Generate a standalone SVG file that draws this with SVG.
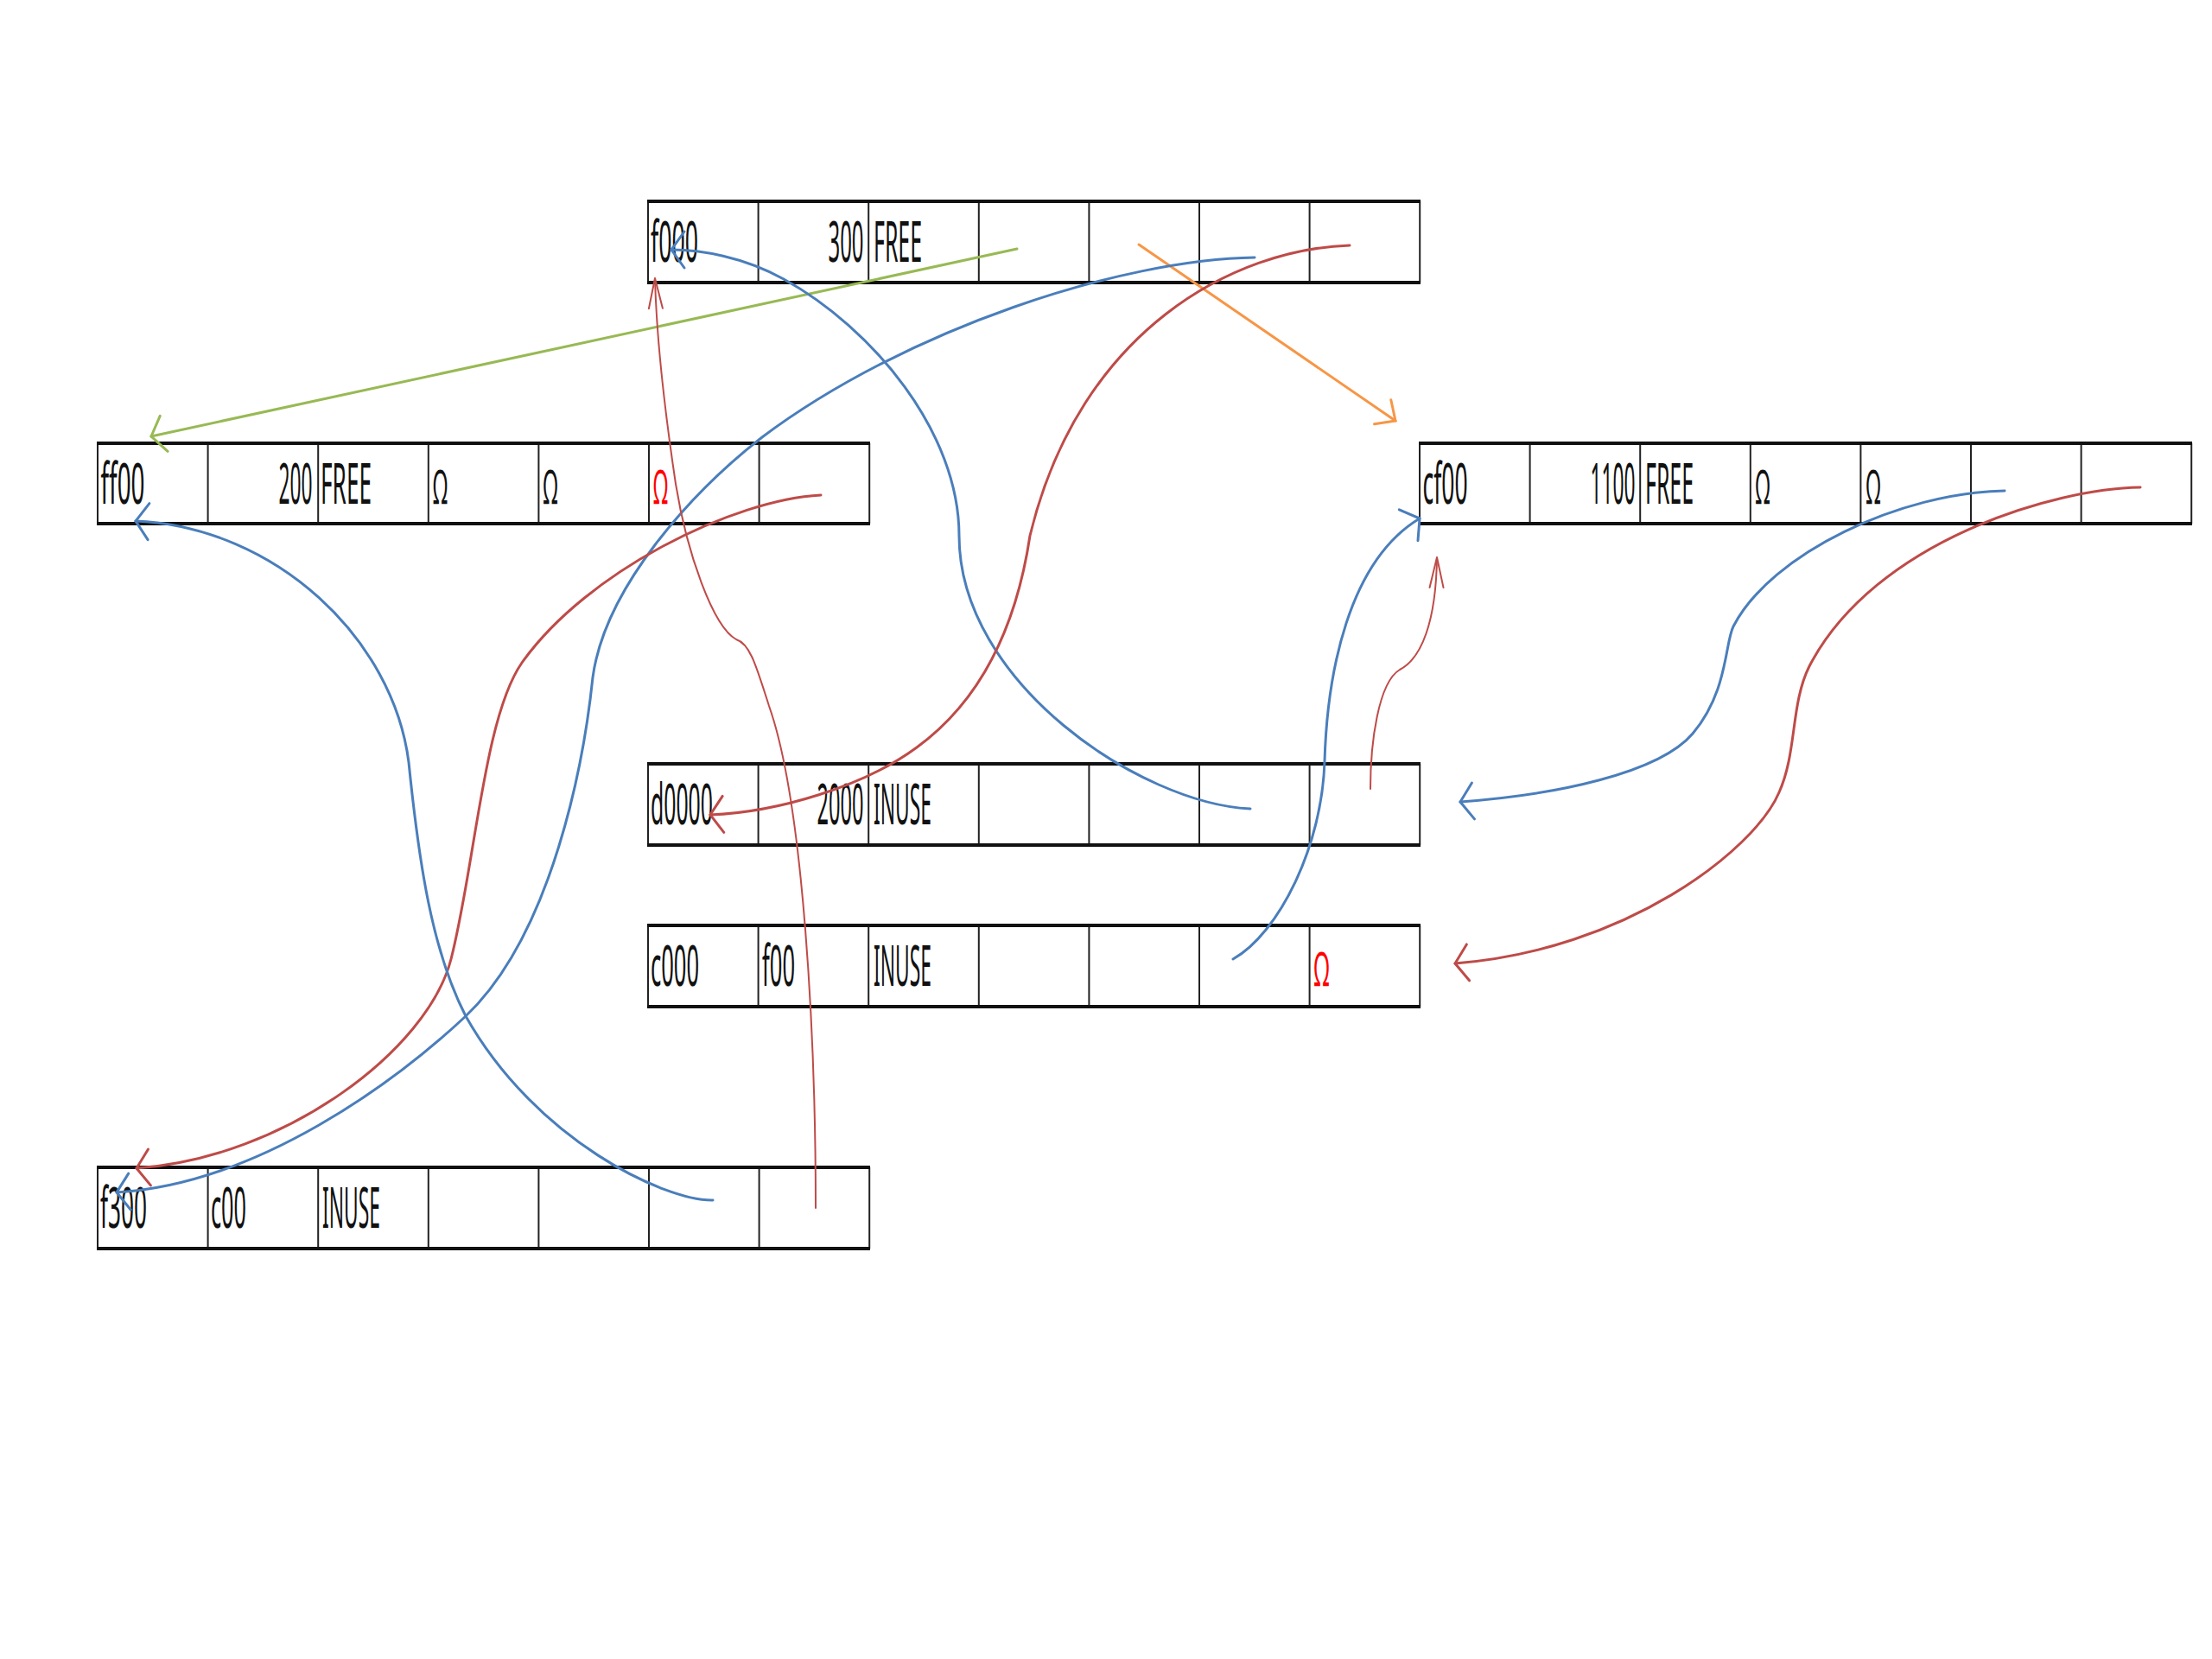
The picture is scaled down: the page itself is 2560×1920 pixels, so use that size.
<svg xmlns="http://www.w3.org/2000/svg" width="2560" height="1920" viewBox="0 0 2560 1920">
<style>
.grid{fill:none;stroke:#222;stroke-width:2}
.edge{fill:none;stroke:#111;stroke-width:4}
.t{font-family:"Noto Sans","Liberation Sans",sans-serif;font-size:66px;fill:#111}
.om{font-family:"Noto Sans","Liberation Sans",sans-serif;font-size:54px;fill:#111}
.omr{fill:#ff0000}
.c{fill:none;stroke-width:3;stroke-linecap:round}
.blue{stroke:#4a7ebb}
.red{stroke:#be4b48}
.thin{stroke-width:2}
.green{stroke:#98b954}
.orange{stroke:#f79646}
</style>
<defs>
<marker id="ah-blue" markerUnits="userSpaceOnUse" markerWidth="40" markerHeight="50" refX="0" refY="0" orient="auto" overflow="visible"><path d="M-15,-21 L0,0 L-15,21" fill="none" stroke="#4a7ebb" stroke-width="3" stroke-linecap="round"/></marker>
<marker id="ah-red" markerUnits="userSpaceOnUse" markerWidth="40" markerHeight="50" refX="0" refY="0" orient="auto" overflow="visible"><path d="M-15,-21 L0,0 L-15,21" fill="none" stroke="#be4b48" stroke-width="3" stroke-linecap="round"/></marker>
<marker id="ah-red-thin" markerUnits="userSpaceOnUse" markerWidth="40" markerHeight="20" refX="0" refY="0" orient="auto" overflow="visible"><path d="M-35,-8 L0,0 L-35,8" fill="none" stroke="#be4b48" stroke-width="2" stroke-linecap="round"/></marker>
<marker id="ah-green" markerUnits="userSpaceOnUse" markerWidth="40" markerHeight="50" refX="0" refY="0" orient="auto" overflow="visible"><path d="M-15,-21 L0,0 L-15,21" fill="none" stroke="#98b954" stroke-width="3" stroke-linecap="round"/></marker>
<marker id="ah-orange" markerUnits="userSpaceOnUse" markerWidth="40" markerHeight="50" refX="0" refY="0" orient="auto" overflow="visible"><path d="M-18,-17 L0,0 L-18,17" fill="none" stroke="#f79646" stroke-width="3" stroke-linecap="round"/></marker>
</defs>
<rect width="2560" height="1920" fill="#fff"/>

<g id="row-f000" transform="translate(750,233)">
<path class="grid" d="M0,0V94M127.6,0V94M255.2,0V94M382.8,0V94M510.4,0V94M638,0V94M765.6,0V94M893.2,0V94"/>
<path class="edge" d="M-1,0H894M-1,94H894"/>
<text class="t" x="3" y="70" textLength="55" lengthAdjust="spacingAndGlyphs">f000</text>
<text class="t" x="208.5" y="70" textLength="41" lengthAdjust="spacingAndGlyphs">300</text>
<text class="t" x="261" y="70" textLength="56" lengthAdjust="spacingAndGlyphs">FREE</text>
</g>

<g id="row-ff00" transform="translate(113,513)">
<path class="grid" d="M0,0V93M127.6,0V93M255.2,0V93M382.8,0V93M510.4,0V93M638,0V93M765.6,0V93M893.2,0V93"/>
<path class="edge" d="M-1,0H894M-1,93H894"/>
<text class="t" x="3.5" y="70" textLength="51" lengthAdjust="spacingAndGlyphs">ff00</text>
<text class="t" x="209.5" y="70" textLength="39" lengthAdjust="spacingAndGlyphs">200</text>
<text class="t" x="258" y="70" textLength="59" lengthAdjust="spacingAndGlyphs">FREE</text>
<text class="om" x="388" y="70" textLength="17" lengthAdjust="spacingAndGlyphs">Ω</text>
<text class="om" x="515.5" y="70" textLength="17" lengthAdjust="spacingAndGlyphs">Ω</text>
<text class="om omr" x="643" y="70" textLength="17" lengthAdjust="spacingAndGlyphs">Ω</text>
</g>

<g id="row-cf00" transform="translate(1643,513)">
<path class="grid" d="M0,0V93M127.6,0V93M255.2,0V93M382.8,0V93M510.4,0V93M638,0V93M765.6,0V93M893.2,0V93"/>
<path class="edge" d="M-1,0H894M-1,93H894"/>
<text class="t" x="3.5" y="70" textLength="52" lengthAdjust="spacingAndGlyphs">cf00</text>
<text class="t" x="197.5" y="70" textLength="52" lengthAdjust="spacingAndGlyphs">1100</text>
<text class="t" x="261" y="70" textLength="56" lengthAdjust="spacingAndGlyphs">FREE</text>
<text class="om" x="388.5" y="70" textLength="17" lengthAdjust="spacingAndGlyphs">Ω</text>
<text class="om" x="516.5" y="70" textLength="17" lengthAdjust="spacingAndGlyphs">Ω</text>
</g>

<g id="row-d0000" transform="translate(750,884)">
<path class="grid" d="M0,0V94M127.6,0V94M255.2,0V94M382.8,0V94M510.4,0V94M638,0V94M765.6,0V94M893.2,0V94"/>
<path class="edge" d="M-1,0H894M-1,94H894"/>
<text class="t" x="3" y="70" textLength="72" lengthAdjust="spacingAndGlyphs">d0000</text>
<text class="t" x="195.5" y="70" textLength="54" lengthAdjust="spacingAndGlyphs">2000</text>
<text class="t" x="261" y="70" textLength="67" lengthAdjust="spacingAndGlyphs">INUSE</text>
</g>

<g id="row-c000" transform="translate(750,1071)">
<path class="grid" d="M0,0V94M127.6,0V94M255.2,0V94M382.8,0V94M510.4,0V94M638,0V94M765.6,0V94M893.2,0V94"/>
<path class="edge" d="M-1,0H894M-1,94H894"/>
<text class="t" x="3" y="70" textLength="56" lengthAdjust="spacingAndGlyphs">c000</text>
<text class="t" x="132" y="70" textLength="38" lengthAdjust="spacingAndGlyphs">f00</text>
<text class="t" x="261" y="70" textLength="67" lengthAdjust="spacingAndGlyphs">INUSE</text>
<text class="om omr" x="770.5" y="70" textLength="18" lengthAdjust="spacingAndGlyphs">Ω</text>
</g>

<g id="row-f300" transform="translate(113,1351)">
<path class="grid" d="M0,0V94M127.6,0V94M255.2,0V94M382.8,0V94M510.4,0V94M638,0V94M765.6,0V94M893.2,0V94"/>
<path class="edge" d="M-1,0H894M-1,94H894"/>
<text class="t" x="3" y="70" textLength="54" lengthAdjust="spacingAndGlyphs">f300</text>
<text class="t" x="131" y="70" textLength="41" lengthAdjust="spacingAndGlyphs">c00</text>
<text class="t" x="260" y="70" textLength="67" lengthAdjust="spacingAndGlyphs">INUSE</text>
</g>

<g id="connectors">
<path class="c green" d="M1177,288 L175,505" marker-end="url(#ah-green)"/>
<path class="c orange" d="M1318,283 L1615,487" marker-end="url(#ah-orange)"/>
<path class="c blue" d="M1447,936 C1320,930 1110,790 1110,620 C1110,500 1010,380 907,323 C860,297 810,289 777,289" marker-end="url(#ah-blue)"/>
<path class="c blue" d="M1452,298 C1300,300 1050,380 882,506 C800,570 700,680 686,784 C676,880 640,1080 539,1176 C460,1250 300,1370 135,1380" marker-end="url(#ah-blue)"/>
<path class="c red" d="M1562,284 C1430,288 1250,380 1192,620 C1180,700 1150,800 1061,865 C1000,910 900,940 822,943" marker-end="url(#ah-red)"/>
<path class="c red thin" d="M944,1398 C944,1200 930,930 890,817 C875,770 868,745 852,740 C825,725 795,640 782,560 C770,480 760,400 758,322" marker-end="url(#ah-red-thin)"/>
<path class="c red" d="M950,573 C850,578 680,660 604,767 C560,830 550,1000 522,1110 C495,1215 330,1340 158,1352" marker-end="url(#ah-red)"/>
<path class="c blue" d="M825,1389 C770,1390 620,1320 539,1176 C500,1100 485,1000 473,882 C455,740 320,610 157,603" marker-end="url(#ah-blue)"/>
<path class="c blue" d="M1427,1110 C1480,1080 1530,980 1533,881 C1536,780 1560,650 1643,600" marker-end="url(#ah-blue)"/>
<path class="c red thin" d="M1586,913 C1586,860 1595,790 1620,775 C1645,762 1662,720 1663,645" marker-end="url(#ah-red-thin)"/>
<path class="c blue" d="M2320,568 C2200,570 2050,640 2006,725 C1996,745 2000,800 1959,849 C1920,895 1800,920 1690,928" marker-end="url(#ah-blue)"/>
<path class="c red" d="M2477,564 C2380,565 2170,625 2094,771 C2072,815 2080,870 2059,917 C2030,985 1880,1100 1684,1115" marker-end="url(#ah-red)"/>
</g>
</svg>
